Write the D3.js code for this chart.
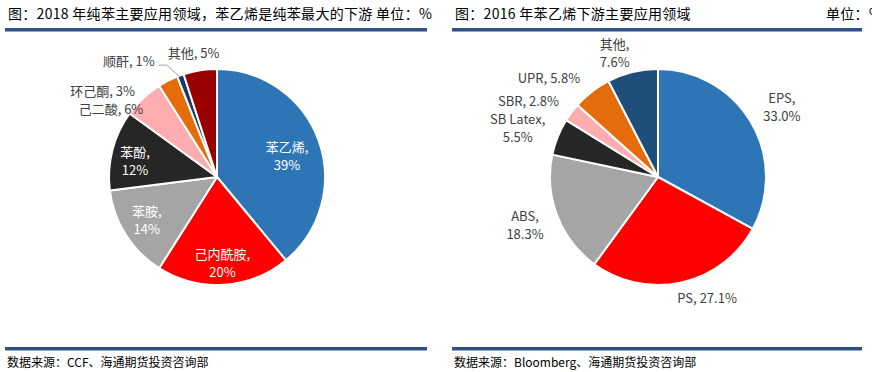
<!DOCTYPE html>
<html>
<head>
<meta charset="utf-8">
<script src="https://cdn.jsdelivr.net/npm/d3@7.9.0/dist/d3.min.js"></script>
<style>
  body { margin: 0; background: #fff; }
  svg { display: block; }
  .title { font-family: "Noto Sans CJK SC", sans-serif; font-size: 14px; fill: #000; letter-spacing: 0.3px; }
  .source { font-family: "Noto Sans CJK SC", sans-serif; font-size: 12px; fill: #000; }
  .lbl { font-family: "Noto Sans CJK SC", "Noto Sans", sans-serif; font-size: 13px; }
</style>
</head>
<body>
<svg id="chart" width="872" height="372"></svg>
<script>
// left chart: 2018 benzene downstream
const leftNames = ["苯乙烯", "己内酰胺", "苯胺", "苯酚", "己二酸", "环己酮", "顺酐", "其他"];
const leftValues = [39, 20, 14, 12, 6, 3, 1, 5];
const leftColors = ["#2E75B6", "#FF0000", "#A5A5A5", "#262626", "#FFADB0", "#E46C0A", "#1F3864", "#990000"];

// right chart: 2016 styrene downstream
const rightNames = ["EPS", "PS", "ABS", "SB Latex", "SBR", "UPR", "其他"];
const rightValues = [33.0, 27.1, 18.3, 5.5, 2.8, 5.8, 7.6];
const rightColors = ["#2E75B6", "#FF0000", "#A5A5A5", "#262626", "#FFADB0", "#E46C0A", "#1F4E79"];

const svg = d3.select("#chart");
const barColor = "#2F5283";
const R = 108;
const lineGap = 18;

// label layout: inside flag, split into two lines, nudge from centroid
const leftLabelStyle = [
  { inside: true, two: true, dx: 4, dy: 3 },
  { inside: true, two: true, dx: 1, dy: 16 },
  { inside: true, two: true, dx: -11, dy: 6 },
  { inside: true, two: true, dx: -14, dy: 2 },
  { inside: false, two: false, dx: -21, dy: 23 },
  { inside: false, two: false, dx: -58, dy: 25 },
  { inside: false, two: false, dx: -46, dy: 1, leader: true },
  { inside: false, two: false, dx: -4, dy: -1 }
];
const rightLabelStyle = [
  { two: true, dx: 17, dy: -6 },
  { two: false, dx: 22, dy: 0 },
  { two: true, dx: -17, dy: 4 },
  { two: true, dx: -25, dy: -2 },
  { two: false, dx: -30, dy: -1 },
  { two: false, dx: -33, dy: 0 },
  { two: true, dx: -14, dy: -3 }
];

function panel(x0, x1, title, source) {
  svg.append("text").attr("class", "title").attr("x", x0 + 3).attr("y", 19).text(title);
  svg.append("rect").attr("x", x0).attr("y", 28).attr("width", x1 - x0).attr("height", 3.5).attr("fill", barColor);
  svg.append("rect").attr("x", x0).attr("y", 347).attr("width", x1 - x0).attr("height", 3.5).attr("fill", barColor);
  svg.append("text").attr("class", "source").attr("x", x0 + 2).attr("y", 367).text(source);
}

function drawPie(cx, cy, names, values, colors, styles, fmt, insideColor, outsideColor) {
  const g = svg.append("g").attr("transform", `translate(${cx},${cy})`);
  const pie = d3.pie().sort(null).value(d => d);
  const arcs = pie(values);
  const arc = d3.arc().innerRadius(0).outerRadius(R);
  const inArc = d3.arc().innerRadius(R * 0.65).outerRadius(R * 0.65);
  const outArc = d3.arc().innerRadius(R * 1.15).outerRadius(R * 1.15);
  const edgeArc = d3.arc().innerRadius(R).outerRadius(R);

  g.selectAll("path")
    .data(arcs)
    .enter()
    .append("path")
    .attr("d", arc)
    .attr("fill", (_, i) => colors[i])
    .attr("stroke", "#fff")
    .attr("stroke-width", 2)
    .attr("stroke-linejoin", "round");

  arcs.forEach((a, i) => {
    const st = styles[i];
    const c = (st.inside ? inArc : outArc).centroid(a);
    const x = c[0] + st.dx, y = c[1] + st.dy;
    const fill = st.inside ? insideColor : outsideColor;
    const name = names[i] + ",";
    const val = fmt(values[i]);
    const addLine = (txt, ty) => g.append("text")
      .attr("class", "lbl")
      .attr("text-anchor", "middle")
      .attr("fill", fill)
      .attr("x", x).attr("y", ty)
      .text(txt);
    let t;
    if (st.two) {
      addLine(name, y - lineGap / 2 + 4.5);
      t = addLine(val, y + lineGap / 2 + 4.5);
    } else {
      t = addLine(name + " " + val, y + 4.5);
    }
    if (st.leader) {
      const e = edgeArc.centroid(a);
      const w = t.node().getComputedTextLength();
      const lx = x + w / 2 + 4, ly = y + 4;
      g.append("polyline")
        .attr("points", `${lx},${ly} ${lx + 8},${ly} ${e[0] - 1},${e[1] + 1}`)
        .attr("fill", "none")
        .attr("stroke", "#A6A6A6")
        .attr("stroke-width", 1);
    }
  });
}

panel(5, 427, "图：2018 年纯苯主要应用领域，苯乙烯是纯苯最大的下游  单位：%", "数据来源：CCF、海通期货投资咨询部");
panel(452, 862, "图：2016 年苯乙烯下游主要应用领域", "数据来源：Bloomberg、海通期货投资咨询部");
svg.append("text").attr("class", "title").attr("x", 826).attr("y", 19).text("单位：%");

drawPie(217, 177, leftNames, leftValues, leftColors, leftLabelStyle, v => v + "%", "#fff", "#404040");
drawPie(658, 177, rightNames, rightValues, rightColors,
  rightLabelStyle.map(s => Object.assign({ inside: false }, s)), v => v.toFixed(1) + "%", "#fff", "#404040");
</script>
</body>
</html>
